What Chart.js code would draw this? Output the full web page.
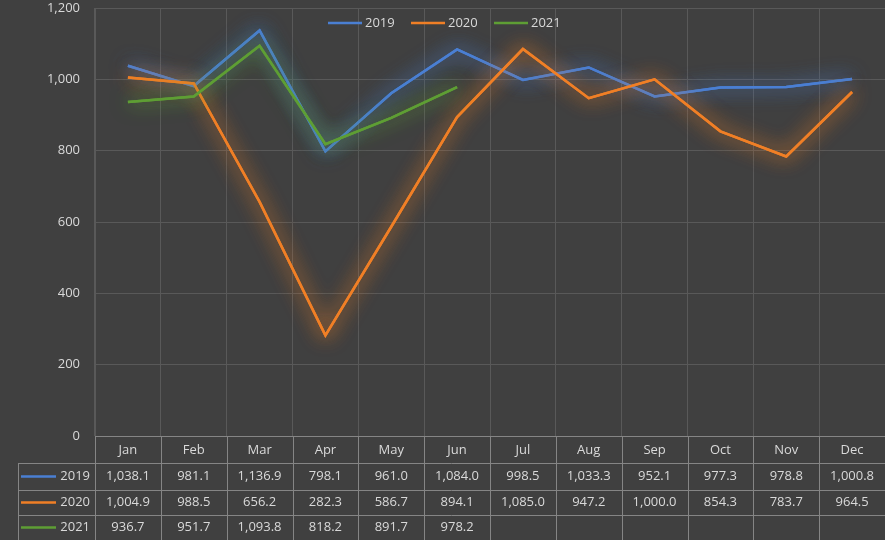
<!DOCTYPE html>
<html>
<head>
<meta charset="utf-8">
<script src="https://cdn.jsdelivr.net/npm/chart.js@4.4.0/dist/chart.umd.min.js"></script>
<style>
  html, body { margin: 0; padding: 0; background: #404040; }
  #wrap { width: 885px; height: 540px; }
</style>
</head>
<body>
<div id="wrap"><canvas id="chart" width="885" height="540"></canvas></div>
<script>
const months = ['Jan', 'Feb', 'Mar', 'Apr', 'May', 'Jun', 'Jul', 'Aug', 'Sep', 'Oct', 'Nov', 'Dec'];
const years = ['2019', '2020', '2021'];
const values2019 = [1038.1, 981.1, 1136.9, 798.1, 961.0, 1084.0, 998.5, 1033.3, 952.1, 977.3, 978.8, 1000.8];
const values2020 = [1004.9, 988.5, 656.2, 282.3, 586.7, 894.1, 1085.0, 947.2, 1000.0, 854.3, 783.7, 964.5];
const values2021 = [936.7, 951.7, 1093.8, 818.2, 891.7, 978.2, null, null, null, null, null, null];
const yTicks = [0, 200, 400, 600, 800, 1000, 1200];

const colors = {
    blue: '#4a7fd3',
    orange: '#f07f26',
    green: '#5e9e34',
    text: '#d9d9d9',
    grid: '#595959',
    table: '#858585',
};
const glow = ['rgba(74,127,211,0.9)', 'rgba(240,127,38,0.9)', 'rgba(94,158,52,0.9)'];

const fmt = v => v == null ? '' : v.toLocaleString('en-US', { minimumFractionDigits: 1, maximumFractionDigits: 1 });
const FONT = '13px "Open Sans", sans-serif';

// soft glow round each line, like the office chart style
// (the line gets drawn one extra time with the shadow so the halo is stronger)
const glowPlugin = {
    id: 'glow',
    beforeDatasetDraw(chart, args) {
        const ctx = chart.ctx;
        ctx.save();
        ctx.shadowColor = glow[args.index];
        ctx.shadowBlur = 20;
        args.meta.dataset.draw(ctx, chart.chartArea);
    },
    afterDatasetDraw(chart) {
        chart.ctx.restore();
    }
};

// legend inside the plot and data table under it
const tablePlugin = {
    id: 'table',
    afterDraw(chart) {
        const ctx = chart.ctx;
        const x = chart.scales.x;
        const area = chart.chartArea;
        const step = (area.right - area.left) / months.length;
        const rowTop = [area.bottom, area.bottom + 27, area.bottom + 54, area.bottom + 79, area.bottom + 104];
        const labelLeft = 18;

        ctx.save();
        ctx.strokeStyle = colors.table;
        ctx.lineWidth = 1;
        ctx.beginPath();
        // horizontal lines
        ctx.moveTo(area.left, rowTop[0] + 0.5);
        ctx.lineTo(area.right, rowTop[0] + 0.5);
        for (let r = 1; r < rowTop.length; r++) {
            ctx.moveTo(labelLeft, rowTop[r] + 0.5);
            ctx.lineTo(area.right, rowTop[r] + 0.5);
        }
        // vertical lines
        for (let i = 0; i <= months.length; i++) {
            const px = Math.round(area.left + i * step) + 0.5;
            ctx.moveTo(px, rowTop[0]);
            ctx.lineTo(px, rowTop[4]);
        }
        ctx.moveTo(labelLeft + 0.5, rowTop[1]);
        ctx.lineTo(labelLeft + 0.5, rowTop[4]);
        ctx.stroke();

        ctx.font = FONT;
        ctx.fillStyle = colors.text;
        ctx.textBaseline = 'middle';
        chart.data.datasets.forEach((ds, r) => {
            const cy = (rowTop[r + 1] + rowTop[r + 2]) / 2;
            ctx.strokeStyle = ds.borderColor;
            ctx.lineWidth = 2.5;
            ctx.beginPath();
            ctx.moveTo(21, cy);
            ctx.lineTo(56, cy);
            ctx.stroke();
            ctx.textAlign = 'right';
            ctx.fillText(ds.label, 90, cy);
            ctx.textAlign = 'center';
            ds.data.forEach((v, i) => {
                ctx.fillText(fmt(v), x.getPixelForValue(i), cy);
            });
        });

        // legend
        let lx = 328;
        const ly = 23;
        chart.data.datasets.forEach(ds => {
            ctx.strokeStyle = ds.borderColor;
            ctx.lineWidth = 2.5;
            ctx.beginPath();
            ctx.moveTo(lx, ly);
            ctx.lineTo(lx + 34, ly);
            ctx.stroke();
            ctx.textAlign = 'left';
            ctx.fillText(ds.label, lx + 37, ly);
            lx += 83;
        });
        ctx.restore();
    }
};

const seriesValues = [values2019, values2020, values2021];
const seriesColors = [colors.blue, colors.orange, colors.green];

new Chart(document.getElementById('chart'), {
    type: 'line',
    data: {
        labels: months,
        datasets: years.map((y, i) => ({
            label: y,
            data: seriesValues[i],
            borderColor: seriesColors[i],
            backgroundColor: seriesColors[i],
            borderWidth: 2.5,
            pointRadius: 0,
            tension: 0,
            order: 3 - i,
        }))
    },
    options: {
        responsive: false,
        animation: false,
        layout: { autoPadding: false, padding: { top: 8, right: 0, bottom: 0, left: 0 } },
        plugins: {
            legend: { display: false },
            tooltip: { enabled: false },
        },
        scales: {
            x: {
                offset: true,
                grid: { color: colors.grid, offset: true, drawTicks: false },
                border: { display: false },
                ticks: { color: colors.text, font: { family: 'Open Sans', size: 13 }, padding: 6 },
                afterFit(scale) { scale.height = 104; },
            },
            y: {
                min: 0,
                max: 1200,
                afterBuildTicks(scale) { scale.ticks = yTicks.map(v => ({ value: v })); },
                grid: { color: colors.grid, drawTicks: false },
                border: { color: colors.grid },
                ticks: {
                    color: colors.text,
                    font: { family: 'Open Sans', size: 13 },
                    padding: 15,
                    callback: v => v.toLocaleString('en-US'),
                },
                afterFit(scale) {
                    scale.width = 95;
                    scale.paddingTop = 0;
                    scale.paddingBottom = 0;
                },
            }
        }
    },
    plugins: [glowPlugin, tablePlugin]
});
</script>
</body>
</html>
